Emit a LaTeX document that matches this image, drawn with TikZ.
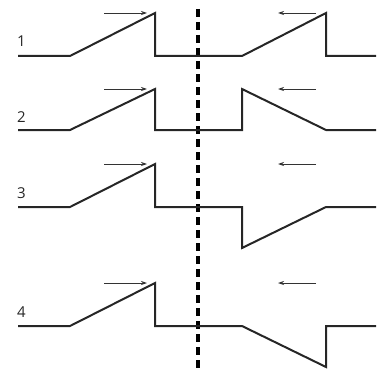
\documentclass[tikz,border=0pt]{standalone}
\usepackage{fontspec}
\setmainfont{Open Sans}
\usetikzlibrary{arrows.meta}
\begin{document}
\begin{tikzpicture}[x=1pt,y=-1pt,
  wave/.style={line width=2pt,line join=miter,color=black!85},
  motion/.style={line width=0.8pt,color=black!80,-{Stealth[length=6pt,width=4pt]}},
  divider/.style={line width=3.2pt,dash pattern=on 8pt off 5pt},
  lbl/.style={font=\fontsize{15}{15}\selectfont,anchor=base west,inner sep=0pt,text=black!85}]
\useasboundingbox (0,0) rectangle (377,369);
% divider
\coordinate (dtop) at (198,9);
\coordinate (dbot) at (198,369);
\draw[divider] (dtop) -- (dbot);
% row 1
\node[lbl] (l1) at (17,47) {1};
\draw[wave] (18,56) -- (70,56) -- (155,13) -- (155,56) -- (242,56) -- (326,13) -- (326,56) -- (376,56);
\coordinate (a1s) at (104,13); \coordinate (a1e) at (147,13);
\coordinate (b1s) at (316,13); \coordinate (b1e) at (278,13);
\draw[motion] (a1s) -- (a1e);
\draw[motion] (b1s) -- (b1e);
% row 2
\node[lbl] (l2) at (17,122) {2};
\draw[wave] (18,130) -- (70,130) -- (155,89) -- (155,130) -- (242,130) -- (242,89) -- (326,130) -- (376,130);
\coordinate (a2s) at (104,89); \coordinate (a2e) at (147,89);
\coordinate (b2s) at (316,89); \coordinate (b2e) at (278,89);
\draw[motion] (a2s) -- (a2e);
\draw[motion] (b2s) -- (b2e);
% row 3
\node[lbl] (l3) at (17,198) {3};
\draw[wave] (18,207) -- (70,207) -- (155,164) -- (155,207) -- (242,207) -- (242,248) -- (326,207) -- (376,207);
\coordinate (a3s) at (104,164); \coordinate (a3e) at (147,164);
\coordinate (b3s) at (316,164); \coordinate (b3e) at (278,164);
\draw[motion] (a3s) -- (a3e);
\draw[motion] (b3s) -- (b3e);
% row 4
\node[lbl] (l4) at (17,317) {4};
\draw[wave] (18,326) -- (70,326) -- (155,283) -- (155,326) -- (242,326) -- (326,367) -- (326,326) -- (376,326);
\coordinate (a4s) at (104,283); \coordinate (a4e) at (147,283);
\coordinate (b4s) at (316,283); \coordinate (b4e) at (278,283);
\draw[motion] (a4s) -- (a4e);
\draw[motion] (b4s) -- (b4e);
\end{tikzpicture}
\end{document}
